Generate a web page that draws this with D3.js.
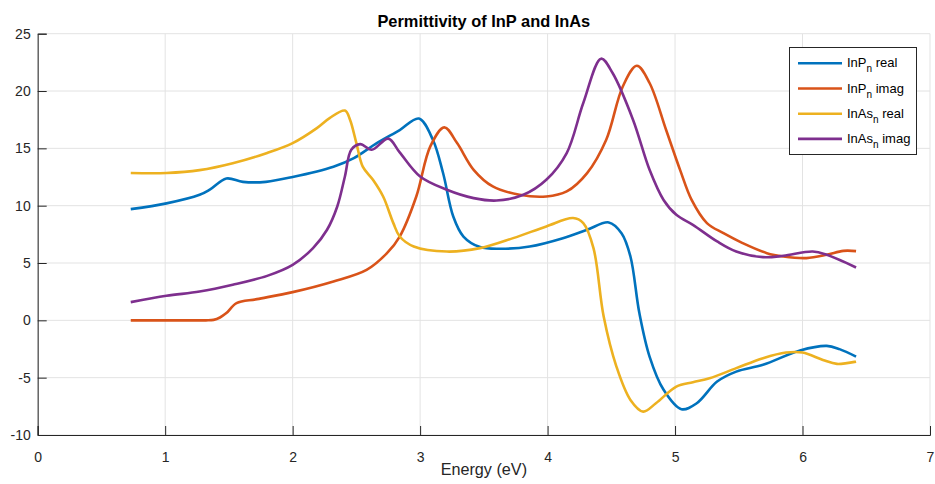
<!DOCTYPE html>
<html>
<head>
<meta charset="utf-8">
<script src="https://cdn.jsdelivr.net/npm/d3@7"></script>
<style>
  html, body { margin: 0; padding: 0; background: #fff; }
  svg { display: block; font-family: "Liberation Sans", Arial, Helvetica, sans-serif; }
</style>
</head>
<body>
<svg id="chart" width="935" height="484"></svg>
<script>
// Photon energy (eV) and dielectric function samples for each material
const inpRealE = [0.73, 1.01, 1.27, 1.35, 1.48, 1.61, 1.79, 2.0, 2.32, 2.48, 2.66, 2.84, 2.99, 3.10, 3.18, 3.26, 3.34, 3.47, 3.63, 3.86, 4.12, 4.31, 4.48, 4.58, 4.65, 4.72, 4.80, 4.91, 5.05, 5.17, 5.33, 5.48, 5.69, 5.98, 6.19, 6.29, 6.42];
const inpReal  = [9.7, 10.2, 10.95, 11.4, 12.37, 12.08, 12.08, 12.5, 13.4, 14.15, 15.46, 16.6, 17.6, 15.75, 12.85, 9.06, 7.31, 6.39, 6.24, 6.44, 7.17, 7.9, 8.54, 7.6, 5.57, 0.63, -3.16, -6.06, -7.75, -7.23, -5.34, -4.47, -3.88, -2.63, -2.23, -2.51, -3.16];

const inpImagE = [0.73, 1.0, 1.2, 1.32, 1.38, 1.43, 1.48, 1.56, 1.72, 2.0, 2.32, 2.58, 2.74, 2.84, 2.97, 3.08, 3.19, 3.29, 3.42, 3.57, 3.78, 3.99, 4.15, 4.31, 4.46, 4.59, 4.70, 4.80, 4.93, 5.04, 5.13, 5.25, 5.38, 5.53, 5.72, 5.85, 6.03, 6.19, 6.32, 6.42];
const inpImag  = [0, 0, 0, 0, 0.04, 0.25, 0.63, 1.5, 1.85, 2.46, 3.39, 4.4, 5.86, 7.31, 10.8, 15.17, 16.83, 15.46, 13.13, 11.68, 10.95, 10.8, 11.24, 12.84, 15.75, 20.4, 22.2, 20.7, 16.6, 13.1, 10.5, 8.48, 7.6, 6.74, 5.86, 5.57, 5.43, 5.72, 6.06, 6.04];

const inasRealE = [0.73, 1.01, 1.27, 1.53, 1.80, 2.0, 2.19, 2.29, 2.41, 2.45, 2.50, 2.55, 2.63, 2.71, 2.79, 2.84, 2.95, 3.21, 3.47, 3.73, 3.99, 4.20, 4.28, 4.36, 4.44, 4.54, 4.65, 4.75, 4.85, 5.01, 5.14, 5.27, 5.48, 5.69, 5.87, 6.0, 6.16, 6.27, 6.42];
const inasReal  = [12.85, 12.85, 13.1, 13.7, 14.6, 15.46, 16.77, 17.64, 18.3, 17.5, 15.46, 13.4, 12.26, 10.8, 8.48, 7.31, 6.44, 6.0, 6.3, 7.17, 8.19, 8.92, 8.48, 6.3, 0.33, -4.03, -6.94, -7.96, -7.23, -5.78, -5.39, -5.05, -4.17, -3.3, -2.81, -2.81, -3.45, -3.8, -3.6];

const inasImagE = [0.73, 1.01, 1.27, 1.53, 1.80, 2.0, 2.16, 2.27, 2.35, 2.41, 2.46, 2.53, 2.62, 2.75, 2.84, 3.0, 3.21, 3.42, 3.60, 3.81, 3.99, 4.15, 4.28, 4.42, 4.51, 4.67, 4.80, 4.91, 5.01, 5.14, 5.33, 5.48, 5.69, 5.85, 6.08, 6.19, 6.42];
const inasImag  = [1.59, 2.14, 2.51, 3.1, 3.88, 4.84, 6.3, 7.9, 9.93, 12.55, 14.88, 15.37, 14.88, 15.85, 14.65, 12.55, 11.39, 10.66, 10.45, 10.95, 12.26, 14.59, 18.95, 22.82, 21.57, 17.5, 13.13, 10.5, 9.2, 8.33, 6.88, 6.0, 5.51, 5.63, 6.0, 5.72, 4.61];

const xTicks = [0, 1, 2, 3, 4, 5, 6, 7];
const yTicks = [-10, -5, 0, 5, 10, 15, 20, 25];

const seriesNames = [["InP", "real"], ["InP", "imag"], ["InAs", "real"], ["InAs", "imag"]];
const seriesColors = ["#0072BD", "#D95319", "#EDB120", "#7E2F8E"];

const series = [
  { e: inpRealE, v: inpReal },
  { e: inpImagE, v: inpImag },
  { e: inasRealE, v: inasReal },
  { e: inasImagE, v: inasImag }
];

const svg = d3.select("#chart");
const W = 935, H = 484;
const margin = { left: 37.7, right: W - 930, top: 33.7, bottom: H - 435 };

const x = d3.scaleLinear().domain([0, 7]).range([margin.left, W - margin.right]);
const y = d3.scaleLinear().domain([-10, 25]).range([H - margin.bottom, margin.top]);

// grid
const grid = svg.append("g").attr("stroke", "#e3e3e3").attr("stroke-width", 1);
xTicks.forEach(t => grid.append("line")
  .attr("x1", x(t)).attr("x2", x(t)).attr("y1", y(-10)).attr("y2", y(25)));
yTicks.forEach(t => grid.append("line")
  .attr("x1", x(0)).attr("x2", x(7)).attr("y1", y(t)).attr("y2", y(t)));

// curves
const line = d3.line().curve(d3.curveCatmullRom.alpha(0.5));
series.forEach((s, i) => {
  svg.append("path")
    .attr("d", line(s.e.map((e, k) => [x(e), y(s.v[k])])))
    .attr("fill", "none")
    .attr("stroke", seriesColors[i])
    .attr("stroke-width", 2.6)
    .attr("stroke-linejoin", "round")
    .attr("stroke-linecap", "butt");
});

// axes with inward ticks
const fmt = d => String(d);
const xAxis = d3.axisBottom(x).tickValues(xTicks).tickSize(-9).tickPadding(17).tickFormat(fmt);
const yAxis = d3.axisLeft(y).tickValues(yTicks).tickSize(-9).tickPadding(7).tickFormat(fmt);

const gx = svg.append("g").attr("transform", `translate(0,${y(-10)})`).call(xAxis);
const gy = svg.append("g").attr("transform", `translate(${x(0)},0)`).call(yAxis);
[gx, gy].forEach(g => {
  g.select(".domain").attr("stroke", "#262626").attr("stroke-width", 1);
  g.selectAll(".tick line").attr("stroke", "#262626").attr("stroke-width", 1);
  g.selectAll(".tick text").attr("fill", "#262626").attr("font-size", 14)
    .attr("font-family", "'Liberation Sans', Arial, sans-serif");
});

// title and label
svg.append("text")
  .attr("x", (x(0) + x(7)) / 2).attr("y", 27)
  .attr("text-anchor", "middle").attr("font-weight", "bold")
  .attr("font-size", 16.4).attr("fill", "#000")
  .text("Permittivity of InP and InAs");

svg.append("text")
  .attr("x", (x(0) + x(7)) / 2).attr("y", 475)
  .attr("text-anchor", "middle").attr("font-size", 16.2).attr("fill", "#262626")
  .text("Energy (eV)");

// legend
const lg = svg.append("g");
lg.append("rect").attr("x", 789.5).attr("y", 47.5).attr("width", 127).attr("height", 107)
  .attr("fill", "#fff").attr("stroke", "#262626").attr("stroke-width", 1);
seriesNames.forEach((nm, i) => {
  const yy = 63.3 + i * 25.2;
  lg.append("line").attr("x1", 798).attr("x2", 842).attr("y1", yy).attr("y2", yy)
    .attr("stroke", seriesColors[i]).attr("stroke-width", 2.6);
  const t = lg.append("text").attr("x", 847).attr("y", yy + 4)
    .attr("font-size", 13).attr("fill", "#000");
  t.append("tspan").text(nm[0]);
  t.append("tspan").attr("font-size", 10).attr("dy", 5).text("n");
  t.append("tspan").attr("dy", -5).text("\u00a0" + nm[1]);
});
</script>
</body>
</html>
